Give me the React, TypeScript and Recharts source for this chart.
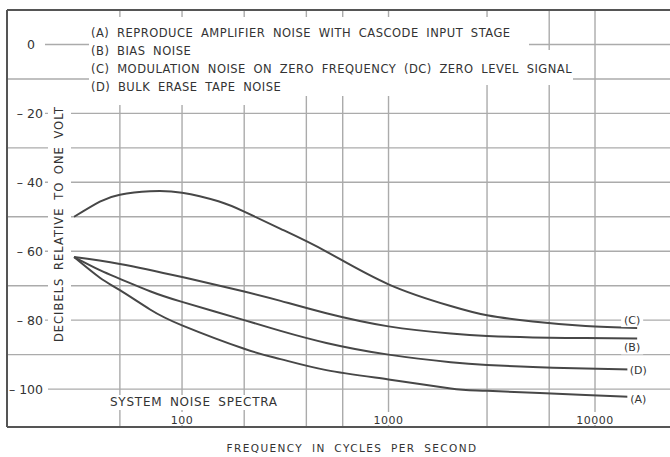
import React from 'react';
import { LineChart, Line, XAxis, YAxis, CartesianGrid, ReferenceLine, LabelList } from 'recharts';

// log frequency grid (Hz) and level grid (dB re 1 V)
const freqGrid = [50, 100, 200, 300, 400, 500, 600, 700, 800, 900, 1000, 2000, 3000, 4000, 5000, 6000, 7000, 8000, 9000, 10000];
const levelGrid = [0, -10, -20, -30, -40, -50, -60, -70, -80, -90, -100];
const levelTicks = [0, -20, -40, -60, -80, -100];
const freqTicks = [100, 1000, 10000];

// (A) reproduce amplifier noise, cascode input stage
const freqA = [30, 40, 50, 70, 100, 200, 300, 500, 1000, 2000, 3000, 9000, 14500];
const levelA = [-61.7, -67.7, -71.3, -76.9, -81.5, -88.3, -91.3, -94.5, -97.2, -99.8, -100.5, -101.7, -102.2];

// (B) bias noise
const freqB = [30, 50, 100, 200, 300, 500, 1000, 2000, 3000, 5000, 9000, 16000];
const levelB = [-61.7, -63.7, -67.5, -71.7, -74.4, -78.0, -81.8, -83.9, -84.6, -85.0, -85.2, -85.3];

// (C) modulation noise, zero level DC signal
const freqC = [30, 40, 50, 70, 100, 150, 200, 300, 500, 1000, 2000, 3000, 5000, 9000, 16000];
const levelC = [-50, -45.6, -43.6, -42.6, -43, -45.5, -48.5, -53.5, -60.1, -69.6, -75.9, -78.6, -80.4, -81.7, -82.3];

// (D) bulk erased tape
const freqD = [30, 40, 50, 70, 100, 200, 300, 500, 1000, 2000, 3000, 5000, 9000, 15000];
const levelD = [-61.7, -65.5, -68.0, -71.6, -74.7, -80, -83.1, -86.6, -90.0, -92.2, -93.0, -93.6, -94.0, -94.3];

const legendLines = [
  '(A) REPRODUCE AMPLIFIER NOISE WITH CASCODE INPUT STAGE',
  '(B) BIAS NOISE',
  '(C) MODULATION NOISE ON ZERO FREQUENCY (DC) ZERO LEVEL SIGNAL',
  '(D) BULK ERASE TAPE NOISE',
];

const toPoints = (freqs: number[], levels: number[]) => freqs.map((f, i) => ({ freq: f, db: levels[i] }));

const ink = '#333';
const font = "'DejaVu Sans', sans-serif";

const LevelTick = ({ y, payload }: any) => {
  const v = payload.value;
  const label = v === 0 ? '0' : `\u2013 ${Math.abs(v)}`;
  return (
    <g>
      <rect x={8} y={y - 7} width={v === -100 ? 40 : 37} height={14} fill="#fff" />
      <text x={v === 0 ? 35 : 43} y={y} dy="0.36em" textAnchor="end" fontFamily={font} fontSize={12.5} fill={ink}>
        {label}
      </text>
    </g>
  );
};

const FreqTick = ({ x, y, payload }: any) => {
  const w = String(payload.value).length * 8 + 4;
  return (
    <g>
      <rect x={x - w / 2} y={y - 15} width={w} height={13} fill="#fff" />
      <text x={x} y={y - 3} textAnchor="middle" fontFamily={font} fontSize={11} letterSpacing={0.5} fill={ink}>
        {payload.value}
      </text>
    </g>
  );
};

// curve tag drawn next to the last point of a series
const endTag = (text: string, last: number, dx: number, dy: number) => (props: any) => {
  if (props.index !== last) return null;
  const cx = props.x + dx;
  const cy = props.y + dy;
  return (
    <g>
      <rect x={cx - 11} y={cy - 6} width={22} height={13} fill="#fff" />
      <text x={cx} y={cy} dy="0.36em" textAnchor="middle" fontFamily={font} fontSize={11} fill={ink}>
        {text}
      </text>
    </g>
  );
};

const mask = (left: number, top: number, right: number, bottom: number): React.CSSProperties => ({
  position: 'absolute', left, top, width: right - left, height: bottom - top, background: '#fff',
});

export default function App() {
  const series = [
    { key: 'A', data: toPoints(freqA, levelA), dx: 10, dy: 2 },
    { key: 'B', data: toPoints(freqB, levelB), dx: -5, dy: 9 },
    { key: 'C', data: toPoints(freqC, levelC), dx: -5, dy: -8 },
    { key: 'D', data: toPoints(freqD, levelD), dx: 7, dy: 1 },
  ];

  return (
    <div style={{ position: 'absolute', left: 0, top: 0, width: 670, height: 457, overflow: 'hidden', background: '#fff' }}>
      <LineChart width={680} height={457} margin={{ top: 10, right: 0, bottom: 0, left: 6 }}>
        <CartesianGrid
          horizontalValues={levelGrid}
          verticalValues={freqGrid}
          stroke="#ababab"
          strokeWidth={1.4}
        />
        <XAxis
          dataKey="freq"
          type="number"
          scale="log"
          domain={[14.2, 25800]}
          allowDataOverflow
          ticks={freqTicks}
          height={30}
          tickSize={0}
          tickMargin={0}
          tickLine={false}
          axisLine={{ stroke: '#555', strokeWidth: 2 }}
          tick={<FreqTick />}
        />
        <YAxis
          type="number"
          domain={[-111, 10]}
          allowDataOverflow
          ticks={levelTicks}
          interval={0}
          width={1}
          tickSize={0}
          tickLine={false}
          axisLine={{ stroke: '#555', strokeWidth: 2 }}
          tick={<LevelTick />}
        />
        <ReferenceLine y={10} stroke="#555" strokeWidth={2} />
        {series.map((s) => (
          <Line
            key={s.key}
            data={s.data}
            dataKey="db"
            type="natural"
            stroke="#474747"
            strokeWidth={2}
            dot={false}
            isAnimationActive={false}
          >
            <LabelList dataKey="db" content={endTag(`(${s.key})`, s.data.length - 1, s.dx, s.dy)} />
          </Line>
        ))}
      </LineChart>

      {/* white ground behind the legend block */}
      <div style={mask(89, 17, 529, 50)} />
      <div style={mask(89, 50, 573, 85)} />
      <div style={mask(89, 85, 440, 96)} />
      <div style={mask(89, 96, 292, 105)} />
      {legendLines.map((t, i) => (
        <div
          key={t}
          style={{
            position: 'absolute', left: 91, top: 25 + i * 18, fontFamily: font, fontSize: 11.5,
            letterSpacing: 0.5, wordSpacing: 3.5, color: ink, whiteSpace: 'nowrap', lineHeight: '16px',
          }}
        >
          {t}
        </div>
      ))}

      {/* vertical axis title */}
      <div style={mask(48, 100, 71, 346)} />
      <div
        style={{
          position: 'absolute', left: 59 - 130, top: 224 - 8, width: 260, height: 16, lineHeight: '16px',
          textAlign: 'center', transform: 'rotate(-90deg)', fontFamily: font, fontSize: 11.5,
          letterSpacing: 1.0, wordSpacing: 3, color: ink, whiteSpace: 'nowrap',
        }}
      >
        DECIBELS RELATIVE TO ONE VOLT
      </div>

      <div
        style={{
          position: 'absolute', left: 108, top: 395, height: 15, lineHeight: '15px', padding: '0 2px',
          background: '#fff', fontFamily: font, fontSize: 12, letterSpacing: 0.75, wordSpacing: 3,
          color: ink, whiteSpace: 'nowrap',
        }}
      >
        SYSTEM NOISE SPECTRA
      </div>

      <div
        style={{
          position: 'absolute', left: 0, width: 704, top: 442, textAlign: 'center', fontFamily: font,
          fontSize: 10.5, letterSpacing: 1.4, wordSpacing: 4, color: ink, whiteSpace: 'nowrap',
        }}
      >
        FREQUENCY IN CYCLES PER SECOND
      </div>
    </div>
  );
}
